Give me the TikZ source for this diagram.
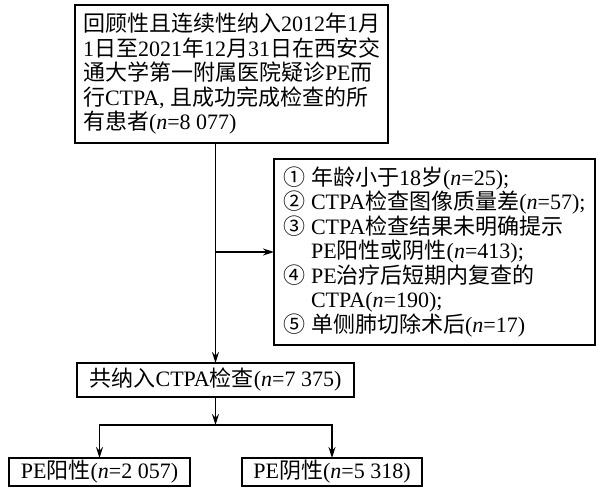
\documentclass[tikz,border=0pt]{standalone}
\usepackage{fontspec}
\setmainfont{Liberation Serif}
\newfontfamily\cjk{Noto Sans CJK SC}
\usetikzlibrary{arrows.meta}
\newcommand\zh[1]{{\cjk #1}}
\begin{document}
\begin{tikzpicture}[x=1pt,y=-1pt,
  box/.style={draw, line width=1.6pt, inner sep=0pt, outer sep=0pt, anchor=north west,
    align=left, font=\fontsize{22}{24.5}\selectfont},
  arr/.style={line width=1.4pt, -{Stealth[length=11pt,width=7pt]}},
  ln/.style={line width=1.4pt}]
\useasboundingbox (0,0) rectangle (601,495);
\node[box, minimum width=313pt, minimum height=138pt] (top) at (75,5) {%
\zh{回顾性且连续性纳入}2012\zh{年}1\zh{月}\\
1\zh{日至}2021\zh{年}12\zh{月}31\zh{日在西安交}\\
\zh{通大学第一附属医院疑诊}PE\zh{而}\\
\zh{行}CTPA, \zh{且成功完成检查的所}\\
\zh{有患者}(\textit{n}=8 077)};
\node[box, minimum width=321pt, minimum height=186pt] (excl) at (274,159) {%
\zh{①} \zh{年龄小于}18\zh{岁}(\textit{n}=25);\\
\zh{②} CTPA\zh{检查图像质量差}(\textit{n}=57);\\
\zh{③} CTPA\zh{检查结果未明确提示}\\
\hphantom{\zh{③} }PE\zh{阳性或阴性}(\textit{n}=413);\\
\zh{④} PE\zh{治疗后短期内复查的}\\
\hphantom{\zh{④} }CTPA(\textit{n}=190);\\
\zh{⑤} \zh{单侧肺切除术后}(\textit{n}=17)};
\node[box, minimum width=277pt, minimum height=34pt] (mid) at (77,363) {%
\zh{共纳入}CTPA\zh{检查}(\textit{n}=7 375)};
\node[box, minimum width=181pt, minimum height=28pt] (pos) at (9,458) {%
PE\zh{阳性}(\textit{n}=2 057)};
\node[box, minimum width=180pt, minimum height=28pt] (neg) at (242,458) {%
PE\zh{阴性}(\textit{n}=5 318)};
\coordinate (s) at (mid.north |- top.south);
\coordinate (j) at (mid.north |- excl.west);
\coordinate (b) at ([yshift=-28pt]mid.south);
\draw[arr] (s) -- (mid.north);
\draw[arr] (j) -- (excl.west);
\draw[arr] (mid.south) -- (b);
\draw[arr] (b) -| (pos.north);
\draw[arr] (b) -| (neg.north);
\end{tikzpicture}
\end{document}
